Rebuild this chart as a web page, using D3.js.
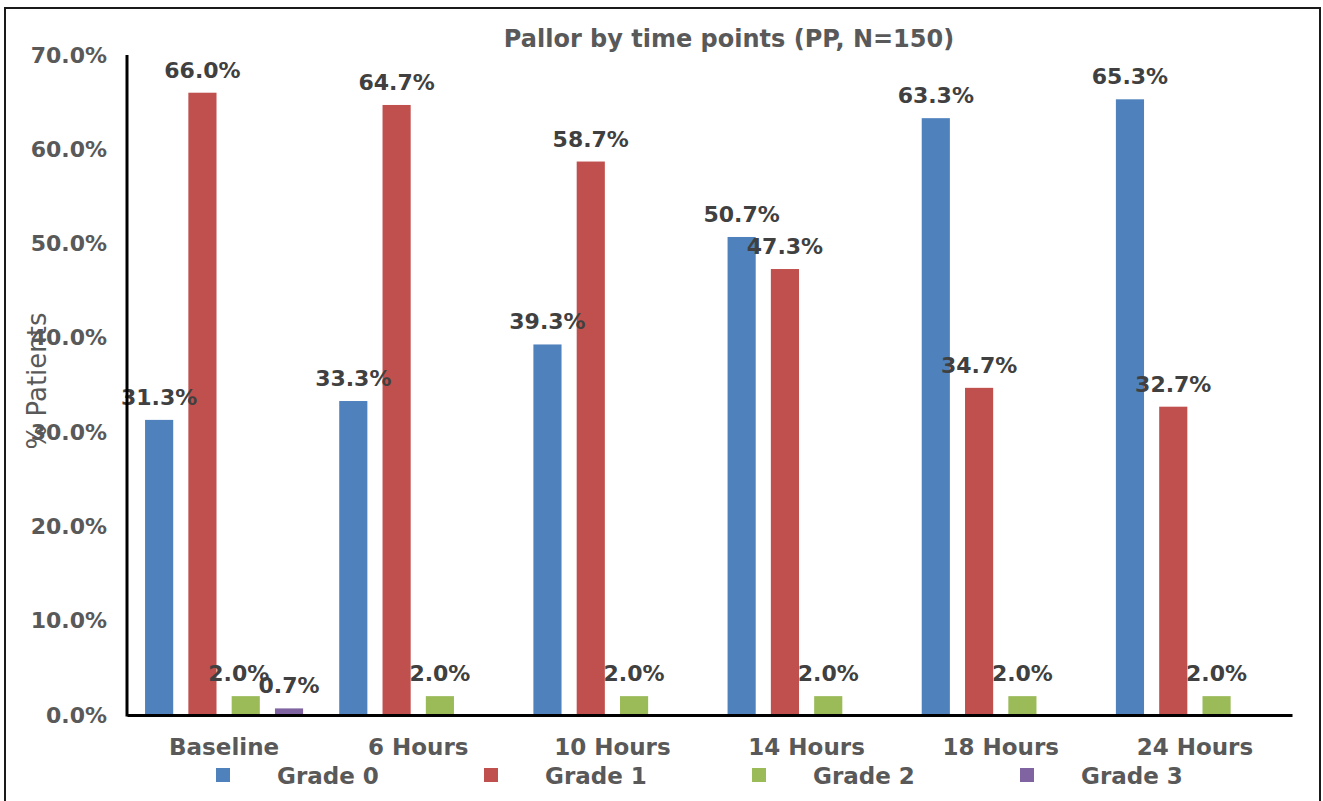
<!DOCTYPE html>
<html>
<head>
<meta charset="utf-8">
<script src="https://cdn.jsdelivr.net/npm/d3@7"></script>
<style>
  html, body { margin: 0; padding: 0; background: #fff; }
  svg { display: block; }
</style>
</head>
<body>
<svg id="chart" width="1323" height="801"></svg>
<script>
// Time points and grade series (% of patients)
const timePoints = ["Baseline", "6 Hours", "10 Hours", "14 Hours", "18 Hours", "24 Hours"];
const seriesNames = ["Grade 0", "Grade 1", "Grade 2", "Grade 3"];
const grade0 = [31.3, 33.3, 39.3, 50.7, 63.3, 65.3];
const grade1 = [66.0, 64.7, 58.7, 47.3, 34.7, 32.7];
const grade2 = [2.0, 2.0, 2.0, 2.0, 2.0, 2.0];
const grade3 = [0.7, null, null, null, null, null];
const yTicks = [0, 10, 20, 30, 40, 50, 60, 70];
const seriesColors = ["#4F81BD", "#C0504D", "#9BBB59", "#8064A2"];

const seriesValues = [grade0, grade1, grade2, grade3];
const rows = [];
timePoints.forEach((t, i) => {
  seriesNames.forEach((s, j) => {
    const v = seriesValues[j][i];
    if (v != null) rows.push({ time: t, series: s, value: v, color: seriesColors[j], ti: i, si: j });
  });
});

const svg = d3.select("#chart");
const FONT = "'DejaVu Sans', Verdana, sans-serif";

// outer frame
svg.append("rect")
  .attr("x", 5).attr("y", 8).attr("width", 1315).attr("height", 800)
  .attr("fill", "none").attr("stroke", "#1a1a1a").attr("stroke-width", 2);

const plot = { left: 127, right: 1292, top: 55, bottom: 715 };

const x0 = d3.scaleBand().domain(timePoints).range([plot.left, plot.right]).padding(0);
const bw = x0.bandwidth();
const x1 = d3.scaleBand().domain(seriesNames)
  .range([bw * 0.093, bw * 0.907]).paddingInner(0.35).paddingOuter(0);
const y = d3.scaleLinear().domain([0, 70]).range([plot.bottom, plot.top]);

// title
svg.append("text")
  .attr("x", 729).attr("y", 47)
  .attr("text-anchor", "middle")
  .attr("font-family", FONT).attr("font-weight", "bold")
  .attr("font-size", 24).attr("fill", "#595959")
  .text("Pallor by time points (PP, N=150)");

// y axis tick labels
const yAxis = d3.axisLeft(y).tickValues(yTicks)
  .tickFormat(d => d.toFixed(1) + "%").tickSize(0).tickPadding(20);
const gy = svg.append("g").attr("transform", `translate(${plot.left},0)`).call(yAxis);
gy.select(".domain").remove();
gy.selectAll("text")
  .attr("font-family", FONT).attr("font-weight", "bold")
  .attr("font-size", 22).attr("fill", "#595959");

// y axis title
svg.append("text")
  .attr("transform", "translate(46,381) rotate(-90)")
  .attr("text-anchor", "middle")
  .attr("font-family", FONT).attr("font-size", 26).attr("fill", "#595959")
  .text("% Patients");

// bars
svg.append("g").selectAll("rect")
  .data(rows).join("rect")
  .attr("x", d => x0(d.time) + x1(d.series))
  .attr("y", d => y(d.value))
  .attr("width", x1.bandwidth())
  .attr("height", d => y(0) - y(d.value))
  .attr("fill", d => d.color);

// value labels; the Grade 2 label is nudged left where a Grade 3 bar sits beside it
const hasGrade3 = i => grade3[i] != null;
svg.append("g").selectAll("text")
  .data(rows).join("text")
  .attr("x", d => x0(d.time) + x1(d.series) + x1.bandwidth() / 2 - (d.si === 2 && hasGrade3(d.ti) ? 7 : 0))
  .attr("y", d => y(d.value) - 15)
  .attr("text-anchor", "middle")
  .attr("font-family", FONT).attr("font-weight", "bold")
  .attr("font-size", 22).attr("fill", "#404040")
  .text(d => d.value.toFixed(1) + "%");

// axis lines
svg.append("line")
  .attr("x1", plot.left).attr("x2", plot.left)
  .attr("y1", plot.top).attr("y2", plot.bottom + 1.5)
  .attr("stroke", "#000").attr("stroke-width", 3);
const xAxis = d3.axisBottom(x0).tickSize(0).tickPadding(24);
const gx = svg.append("g").attr("transform", `translate(0,${plot.bottom})`).call(xAxis);
gx.select(".domain").attr("stroke", "#000").attr("stroke-width", 3);
gx.selectAll("text")
  .attr("font-family", FONT).attr("font-weight", "bold")
  .attr("font-size", 23).attr("fill", "#595959");

// legend
const legend = svg.append("g").selectAll("g")
  .data(seriesNames).join("g")
  .attr("transform", (d, i) => `translate(${216 + i * 268},768)`);
legend.append("rect")
  .attr("width", 14).attr("height", 14)
  .attr("fill", (d, i) => seriesColors[i]);
legend.append("text")
  .attr("x", 61).attr("y", 16)
  .attr("font-family", FONT).attr("font-weight", "bold")
  .attr("font-size", 23).attr("fill", "#595959")
  .text(d => d);
</script>
</body>
</html>
